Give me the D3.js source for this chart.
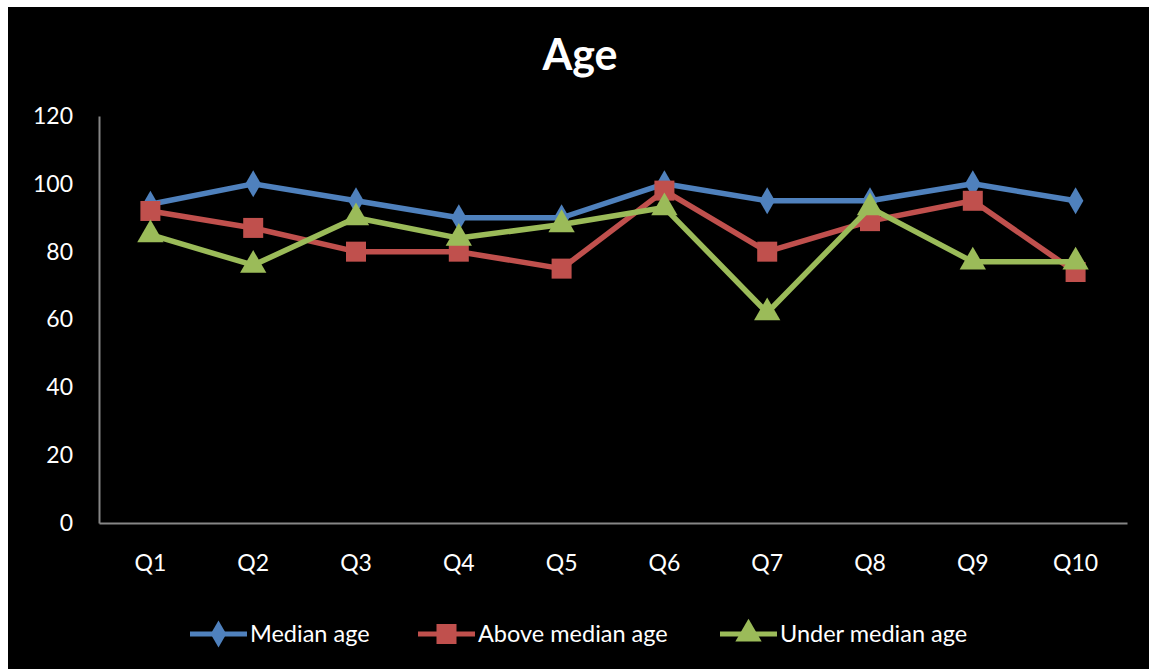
<!DOCTYPE html>
<html>
<head>
<meta charset="utf-8">
<script src="https://cdn.jsdelivr.net/npm/d3@7"></script>
<style>
  body { margin: 0; background: #fff; }
  svg { display: block; }
</style>
</head>
<body>
<svg id="chart"></svg>
<script>
var categories = ["Q1", "Q2", "Q3", "Q4", "Q5", "Q6", "Q7", "Q8", "Q9", "Q10"]
var medianAge = [94, 100, 95, 90, 90, 100, 95, 95, 100, 95]
var aboveMedian = [92, 87, 80, 80, 75, 98, 80, 89, 95, 74]
var underMedian = [85, 76, 90, 84, 88, 93, 62, 93, 77, 77]
var yTicks = [0, 20, 40, 60, 80, 100, 120]
var seriesNames = ["Median age", "Above median age", "Under median age"]

var dimensions = {
    width: 1149,
    height: 669,
    margin: { top: 116, bottom: 146, left: 99, right: 22 }
}

var font = "Lato, 'Open Sans', sans-serif"

var series = [
    { name: seriesNames[0], values: medianAge, color: "#4F81BD", symbol: d3.symbolDiamond, size: 210 },
    { name: seriesNames[1], values: aboveMedian, color: "#C0504D", symbol: d3.symbolSquare, size: 400 },
    { name: seriesNames[2], values: underMedian, color: "#9BBB59", symbol: d3.symbolTriangle, size: 300 }
]

var svg = d3.select("#chart")
            .attr("width", dimensions.width)
            .attr("height", dimensions.height)

svg.append("rect")
   .attr("x", 8).attr("y", 7)
   .attr("width", dimensions.width - 8)
   .attr("height", dimensions.height - 7)
   .attr("fill", "#000")

var xScale = d3.scaleBand()
               .domain(categories)
               .range([dimensions.margin.left, dimensions.width - dimensions.margin.right])

var yScale = d3.scaleLinear()
               .domain([0, 120])
               .range([dimensions.height - dimensions.margin.bottom, dimensions.margin.top])

// title
svg.append("text")
   .attr("x", 580).attr("y", 70)
   .attr("text-anchor", "middle")
   .attr("fill", "#fff")
   .style("font-family", font)
   .style("font-weight", "bold")
   .style("font-size", "43px")
   .text("Age")

// axes
var yAxisGen = d3.axisLeft(yScale).tickValues(yTicks).tickSize(0).tickPadding(26)
var yAxis = svg.append("g")
               .attr("transform", `translate(${dimensions.margin.left},0)`)
               .call(yAxisGen)
yAxis.select(".domain").attr("stroke", "#868686").attr("stroke-width", 2)
yAxis.selectAll("text").attr("fill", "#fff").style("font-family", font).style("font-size", "23px")

var xAxisGen = d3.axisBottom(xScale).tickSize(0).tickPadding(32)
var xAxis = svg.append("g")
               .attr("transform", `translate(0,${dimensions.height - dimensions.margin.bottom})`)
               .call(xAxisGen)
xAxis.select(".domain").attr("stroke", "#868686").attr("stroke-width", 2)
xAxis.selectAll("text").attr("fill", "#fff").style("font-family", font).style("font-size", "23px")

var cx = d => xScale(d) + xScale.bandwidth() / 2

var line = d3.line()
             .x((d, i) => cx(categories[i]))
             .y(d => yScale(d))

series.forEach(function(s) {
    var g = svg.append("g")
    g.append("path")
     .datum(s.values)
     .attr("d", line)
     .attr("fill", "none")
     .attr("stroke", s.color)
     .attr("stroke-width", 5.5)
     .attr("stroke-linejoin", "round")
    g.selectAll("path.marker")
     .data(s.values)
     .enter()
     .append("path")
     .attr("class", "marker")
     .attr("d", d3.symbol().type(s.symbol).size(s.size))
     .attr("transform", (d, i) => `translate(${cx(categories[i])},${yScale(d)})`)
     .attr("fill", s.color)
})

// legend
var legendX = [190, 418, 720]
var legendY = 634
series.forEach(function(s, i) {
    var g = svg.append("g").attr("transform", `translate(${legendX[i]},${legendY})`)
    g.append("line")
     .attr("x1", 0).attr("x2", 57)
     .attr("stroke", s.color)
     .attr("stroke-width", 5)
    g.append("path")
     .attr("d", d3.symbol().type(s.symbol).size(s.size))
     .attr("transform", "translate(28.5,0)")
     .attr("fill", s.color)
    g.append("text")
     .attr("x", 60).attr("y", 8)
     .attr("fill", "#fff")
     .style("font-family", font)
     .style("font-size", "23.5px")
     .text(s.name)
})
</script>
</body>
</html>
